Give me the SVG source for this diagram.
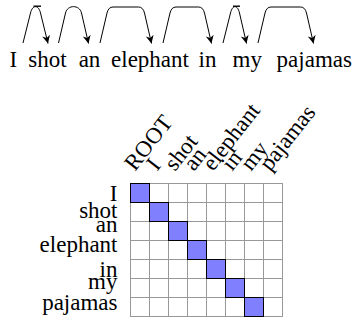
<svg xmlns="http://www.w3.org/2000/svg" width="354" height="320" viewBox="0 0 354 320">
<style>
.arc{fill:none;stroke:#000;stroke-width:1;marker-end:url(#ah)}
.cap{fill:none;stroke:#000;stroke-width:1.4}
.grid{fill:none;stroke:#999;stroke-width:1}
.cell{fill:#8080ff;stroke:#000;stroke-width:1}
</style>
<defs>
<marker id="ah" markerUnits="userSpaceOnUse" markerWidth="10" markerHeight="10" viewBox="-7 -4 8 8" refX="0" refY="0" orient="auto">
<path d="M0,0 L-6.5,-3.2 L-4.5,0 L-6.5,3.2 Z" fill="#000"/>
</marker>
</defs>
<g id="sentence" font-family="'Liberation Serif', 'Times New Roman', serif" font-size="23" text-anchor="middle" fill="#000">
<text x="13.3" y="66.5">I</text>
<text x="47.5" y="66.5">shot</text>
<text x="89.5" y="66.5">an</text>
<text x="150" y="66.5">elephant</text>
<text x="207.5" y="66.5">in</text>
<text x="247.2" y="66.5">my</text>
<text x="314.3" y="66.5">pajamas</text>
</g>
<g id="connectors">
<path class="arc" d="M23 43 L30.5 13 C32.5 4.5 38.5 4.5 40.5 13 L48 43.5"/>
<path class="cap" d="M33.5 6.2 H41"/>
<path class="arc" d="M58.5 43 L65.5 13 C67.5 4.5 79.5 4.5 81.5 13 L88.5 43.5"/>
<path class="arc" d="M100 43 L107 13 Q108.5 7 113 7 L138.5 7 Q143 7 144.5 13 L151.5 43.5"/>
<path class="arc" d="M163 43 L170 13 Q171.5 7 176 7 L198.5 7 Q203 7 204.5 13 L211.5 43.5"/>
<path class="arc" d="M223 43 L230.5 13 C232.5 4.5 237.5 4.5 239.5 13 L246.5 43.5"/>
<path class="cap" d="M233 6.2 H240"/>
<path class="arc" d="M258 43 L265 13 Q266.5 7 271 7 L300.5 7 Q305 7 306.5 13 L313.5 43.5"/>
</g>
<g id="col-labels" font-family="'Liberation Serif', 'Times New Roman', serif" font-size="23" fill="#000">
<text transform="translate(135,172) rotate(-52)">ROOT</text>
<text transform="translate(157,172) rotate(-52)">I</text>
<text transform="translate(175,172) rotate(-52)">shot</text>
<text transform="translate(194,172) rotate(-52)">an</text>
<text transform="translate(213,172) rotate(-52)">elephant</text>
<text transform="translate(232,172) rotate(-52)">in</text>
<text transform="translate(251,172) rotate(-52)">my</text>
<text transform="translate(270,172) rotate(-52)">pajamas</text>
</g>
<g id="row-labels" font-family="'Liberation Serif', 'Times New Roman', serif" font-size="23" text-anchor="end" fill="#000">
<text x="117.5" y="200.5">I</text>
<text x="117.5" y="217.5">shot</text>
<text x="117.5" y="232">an</text>
<text x="117.5" y="252">elephant</text>
<text x="117.5" y="276.5">in</text>
<text x="117.5" y="289">my</text>
<text x="117.5" y="310">pajamas</text>
</g>
<g id="matrix">
<rect class="grid" x="130.5" y="183.5" width="152" height="133"/>
<path class="grid" d="M149.5 183.5V316.5 M168.5 183.5V316.5 M187.5 183.5V316.5 M206.5 183.5V316.5 M225.5 183.5V316.5 M244.5 183.5V316.5 M263.5 183.5V316.5 M130.5 202.5H282.5 M130.5 221.5H282.5 M130.5 240.5H282.5 M130.5 259.5H282.5 M130.5 278.5H282.5 M130.5 297.5H282.5"/>
<rect class="cell" x="130.5" y="183.5" width="19" height="19"/>
<rect class="cell" x="149.5" y="202.5" width="19" height="19"/>
<rect class="cell" x="168.5" y="221.5" width="19" height="19"/>
<rect class="cell" x="187.5" y="240.5" width="19" height="19"/>
<rect class="cell" x="206.5" y="259.5" width="19" height="19"/>
<rect class="cell" x="225.5" y="278.5" width="19" height="19"/>
<rect class="cell" x="244.5" y="297.5" width="19" height="19"/>
</g>
</svg>
